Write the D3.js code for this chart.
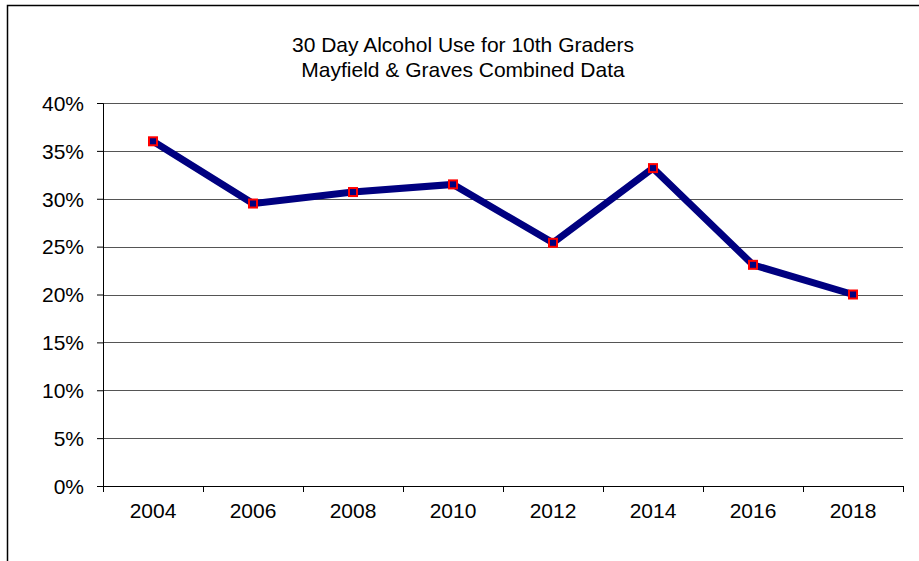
<!DOCTYPE html>
<html>
<head>
<meta charset="utf-8">
<script src="https://cdn.jsdelivr.net/npm/d3@7"></script>
<style>
  body { margin: 0; background: #fff; }
  text { font-family: "Liberation Sans", Arial, sans-serif; fill: #000; }
</style>
</head>
<body>
<svg class="chart"></svg>
<script>
// chart data
var years = ["2004", "2006", "2008", "2010", "2012", "2014", "2016", "2018"];
var alcoholUse = [36.0, 29.5, 30.7, 31.5, 25.4, 33.2, 23.1, 20.0];
var yTicks = [0, 5, 10, 15, 20, 25, 30, 35, 40];
var titleLines = ["30 Day Alcohol Use for 10th Graders", "Mayfield & Graves Combined Data"];

var width = 919,
    height = 561,
    margin = {top: 103, right: 16, bottom: 75, left: 103};

var svg = d3.select(".chart")
    .attr("width", width)
    .attr("height", height);

// outer frame
svg.append("rect")
    .attr("x", 7.5)
    .attr("y", 5.5)
    .attr("width", 920)
    .attr("height", 600)
    .attr("fill", "none")
    .attr("stroke", "#000")
    .attr("stroke-width", 1.5);

// title
svg.append("g").selectAll("text")
    .data(titleLines).enter()
    .append("text")
    .attr("x", 463)
    .attr("y", function(d, i) { return 52 + i * 25; })
    .attr("text-anchor", "middle")
    .style("font-size", "21px")
    .text(function(d) { return d; });

var plotW = width - margin.left - margin.right,
    plotH = 486 - margin.top;

var g = svg.append("g")
    .attr("transform", "translate(" + margin.left + "," + margin.top + ")");

var x = d3.scaleBand()
    .domain(years)
    .range([0, plotW]);

var y = d3.scaleLinear()
    .domain([0, 40])
    .range([plotH, 0]);

// gridlines
g.append("g").selectAll("line")
    .data(yTicks.filter(function(d) { return d > 0; })).enter()
    .append("line")
    .attr("x1", 0)
    .attr("x2", plotW)
    .attr("y1", function(d) { return Math.round(y(d)) + 0.5; })
    .attr("y2", function(d) { return Math.round(y(d)) + 0.5; })
    .attr("stroke", "#555")
    .attr("stroke-width", 1);

// y axis
var yAxis = g.append("g")
    .call(d3.axisLeft(y).tickValues(yTicks).tickSize(6).tickPadding(13)
        .tickFormat(function(d) { return d + "%"; }));
yAxis.select(".domain").attr("stroke", "#000");
yAxis.selectAll("text").style("font-size", "21px").attr("dy", "0.35em");

// x axis with ticks at band edges
var xAxis = g.append("g")
    .attr("transform", "translate(0," + plotH + ")");
xAxis.append("line")
    .attr("x1", 0).attr("x2", plotW)
    .attr("y1", 0.5).attr("y2", 0.5)
    .attr("stroke", "#000");
xAxis.selectAll(".tick")
    .data(years.concat(["end"])).enter()
    .append("line")
    .attr("x1", function(d, i) { return Math.round(i * x.step()) + 0.5; })
    .attr("x2", function(d, i) { return Math.round(i * x.step()) + 0.5; })
    .attr("y1", 0)
    .attr("y2", 6)
    .attr("stroke", "#000");
xAxis.selectAll("text")
    .data(years).enter()
    .append("text")
    .attr("x", function(d) { return x(d) + x.bandwidth() / 2; })
    .attr("y", 32)
    .attr("text-anchor", "middle")
    .style("font-size", "21px")
    .text(function(d) { return d; });

// line
var line = d3.line()
    .x(function(d, i) { return x(years[i]) + x.bandwidth() / 2; })
    .y(function(d) { return y(d); });

g.append("path")
    .datum(alcoholUse)
    .attr("d", line)
    .attr("fill", "none")
    .attr("stroke", "#000080")
    .attr("stroke-width", 7)
    .attr("stroke-linejoin", "miter");

// markers
g.append("g").selectAll("rect")
    .data(alcoholUse).enter()
    .append("rect")
    .attr("x", function(d, i) { return x(years[i]) + x.bandwidth() / 2 - 4; })
    .attr("y", function(d) { return y(d) - 4; })
    .attr("width", 8)
    .attr("height", 8)
    .attr("fill", "#000080")
    .attr("stroke", "#ff0000")
    .attr("stroke-width", 2);
</script>
</body>
</html>
